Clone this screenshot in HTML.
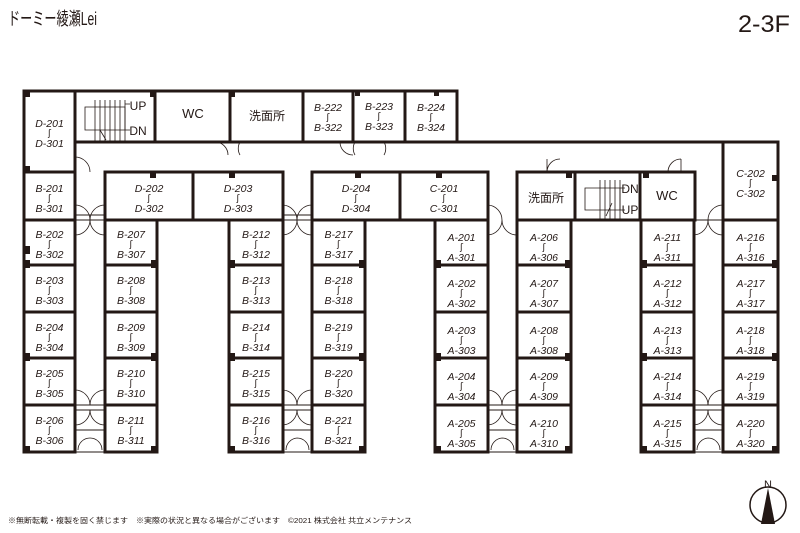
<!DOCTYPE html>
<html><head><meta charset="utf-8"><style>
html,body{margin:0;padding:0;background:#fff;width:800px;height:533px;overflow:hidden}
svg{display:block}
.r{fill:#fff;stroke:#231815;stroke-width:3}
.t{font-family:"Liberation Sans",sans-serif;font-style:italic;font-size:10.5px;fill:#231815;text-anchor:middle}
.s{font-family:"DejaVu Sans",sans-serif;font-size:9px;fill:#231815;text-anchor:middle}
.j{font-family:"Liberation Sans","Noto Sans CJK JP",sans-serif;fill:#231815;text-anchor:middle}
.d{fill:none;stroke:#231815;stroke-width:0.8}
.p{fill:#231815}
</style></head><body>
<svg width="800" height="533" viewBox="0 0 800 533" xmlns="http://www.w3.org/2000/svg">
<text x="8" y="25" font-family="Liberation Sans,'Noto Sans CJK JP',sans-serif" font-size="18" fill="#231815" textLength="89" lengthAdjust="spacingAndGlyphs">ドーミー綾瀬Lei</text>
<text x="790" y="32" font-family="Liberation Sans,sans-serif" font-size="24" fill="#231815" text-anchor="end" textLength="52" lengthAdjust="spacingAndGlyphs">2-3F</text>

<path d="M457 142 H723" stroke="#231815" stroke-width="3" fill="none"/>
<path d="M75 142 V172" stroke="#231815" stroke-width="3"/>
<path d="M723 142 V220" stroke="#231815" stroke-width="3"/>
<rect class="r" x="24" y="91" width="51" height="81"/>
<rect class="r" x="75" y="91" width="80" height="51"/>
<rect class="r" x="155" y="91" width="75" height="51"/>
<rect class="r" x="230" y="91" width="73" height="51"/>
<rect class="r" x="303" y="91" width="50" height="51"/>
<rect class="r" x="353" y="91" width="52" height="51"/>
<rect class="r" x="405" y="91" width="52" height="51"/>
<rect class="r" x="24" y="172" width="51" height="48"/>
<rect class="r" x="105" y="172" width="88" height="48"/>
<rect class="r" x="193" y="172" width="90" height="48"/>
<rect class="r" x="312" y="172" width="88" height="48"/>
<rect class="r" x="400" y="172" width="88" height="48"/>
<rect class="r" x="517" y="172" width="58" height="48"/>
<rect class="r" x="575" y="172" width="65" height="48"/>
<rect class="r" x="640" y="172" width="55" height="48"/>
<rect class="r" x="723" y="142" width="55" height="78"/>

<g>
<rect class="r" x="24" y="220" width="51" height="45"/><rect class="r" x="24" y="265" width="51" height="47"/><rect class="r" x="24" y="312" width="51" height="46"/><rect class="r" x="24" y="358" width="51" height="47"/><rect class="r" x="24" y="405" width="51" height="47"/>
<rect class="r" x="105" y="220" width="52" height="45"/><rect class="r" x="105" y="265" width="52" height="47"/><rect class="r" x="105" y="312" width="52" height="46"/><rect class="r" x="105" y="358" width="52" height="47"/><rect class="r" x="105" y="405" width="52" height="47"/>
<rect class="r" x="229" y="220" width="54" height="45"/><rect class="r" x="229" y="265" width="54" height="47"/><rect class="r" x="229" y="312" width="54" height="46"/><rect class="r" x="229" y="358" width="54" height="47"/><rect class="r" x="229" y="405" width="54" height="47"/>
<rect class="r" x="312" y="220" width="53" height="45"/><rect class="r" x="312" y="265" width="53" height="47"/><rect class="r" x="312" y="312" width="53" height="46"/><rect class="r" x="312" y="358" width="53" height="47"/><rect class="r" x="312" y="405" width="53" height="47"/>
<rect class="r" x="435" y="220" width="53" height="45"/><rect class="r" x="435" y="265" width="53" height="47"/><rect class="r" x="435" y="312" width="53" height="46"/><rect class="r" x="435" y="358" width="53" height="47"/><rect class="r" x="435" y="405" width="53" height="47"/>
<rect class="r" x="517" y="220" width="54" height="45"/><rect class="r" x="517" y="265" width="54" height="47"/><rect class="r" x="517" y="312" width="54" height="46"/><rect class="r" x="517" y="358" width="54" height="47"/><rect class="r" x="517" y="405" width="54" height="47"/>
<rect class="r" x="641" y="220" width="53" height="45"/><rect class="r" x="641" y="265" width="53" height="47"/><rect class="r" x="641" y="312" width="53" height="46"/><rect class="r" x="641" y="358" width="53" height="47"/><rect class="r" x="641" y="405" width="53" height="47"/>
<rect class="r" x="723" y="220" width="55" height="45"/><rect class="r" x="723" y="265" width="55" height="47"/><rect class="r" x="723" y="312" width="55" height="46"/><rect class="r" x="723" y="358" width="55" height="47"/><rect class="r" x="723" y="405" width="55" height="47"/>
</g>
<g stroke="#231815" stroke-width="1" fill="none">
<path d="M75 430 H105 M75 452 H105 M283 430 H312 M283 452 H312 M488 430 H517 M488 452 H517 M694 430 H723 M694 452 H723"/>
<path class="d" d="M78 450 A12 12 0 0 1 90 438 M102 450 A12 12 0 0 0 90 438 M286 450 A12 12 0 0 1 297 438 M309 450 A12 12 0 0 0 297 438 M491 450 A12 12 0 0 1 502 438 M514 450 A12 12 0 0 0 502 438 M697 450 A12 12 0 0 1 708 438 M720 450 A12 12 0 0 0 708 438"/>
<path d="M75 405 H105 M75 410 H105 M283 405 H312 M283 410 H312 M488 405 H517 M488 410 H517 M694 405 H723 M694 410 H723"/>
<path d="M75 220 H105 M75 215 H105 M283 220 H312 M283 215 H312 M694 220 H723"/>
</g>
<g class="d">
<path d="M75 390 A15 15 0 0 1 90 405 M105 390 A15 15 0 0 0 90 405 M75 425 A15 15 0 0 0 90 410 M105 425 A15 15 0 0 1 90 410"/>
<path d="M283 390 A15 15 0 0 1 297 405 M312 390 A15 15 0 0 0 297 405 M283 425 A15 15 0 0 0 297 410 M312 425 A15 15 0 0 1 297 410"/>
<path d="M488 390 A15 15 0 0 1 502 405 M517 390 A15 15 0 0 0 502 405 M488 425 A15 15 0 0 0 502 410 M517 425 A15 15 0 0 1 502 410"/>
<path d="M694 390 A15 15 0 0 1 708 405 M723 390 A15 15 0 0 0 708 405 M694 425 A15 15 0 0 0 708 410 M723 425 A15 15 0 0 1 708 410"/>
<path d="M75 205 A15 15 0 0 1 90 220 M105 205 A15 15 0 0 0 90 220 M75 235 A15 15 0 0 0 90 220 M105 235 A15 15 0 0 1 90 220"/>
<path d="M283 205 A15 15 0 0 1 297 220 M312 205 A15 15 0 0 0 297 220 M283 235 A15 15 0 0 0 297 220 M312 235 A15 15 0 0 1 297 220"/>
<path d="M488 205 A15 15 0 0 1 502 220 M517 235 A15 15 0 0 1 502 220 M488 235 A15 15 0 0 0 502 220"/>
<path d="M694 235 A15 15 0 0 0 708 220 M723 235 A15 15 0 0 1 708 220 M723 205 A15 15 0 0 0 708 220"/>
<path d="M75 157 A15 15 0 0 1 90 172 M215 142 A13 13 0 0 1 228 155 M240 142 A13 13 0 0 0 240 155 M340 142 A13 13 0 0 0 353 155 M355 142 A13 13 0 0 0 355 155 M384 142 A13 13 0 0 1 384 155 M547 172 A13 13 0 0 1 560 159 M547 159 V172 M668 172 A13 13 0 0 1 681 159 M681 159 V172"/>
</g>
<g stroke="#231815" stroke-width="0.8" fill="none">
<path d="M95 100 V142 M100 100 V142 M105 100 V142 M110 100 V142 M115 100 V142 M120 100 V142 M125 100 V142"/>
<path d="M85 107 H125 V130 H85 Z"/>
<path d="M125 104 H130 M125 130 H130 M100 130 L106 140"/>
<path d="M600 180 V220 M605 180 V220 M610 180 V220 M615 180 V220 M620 180 V220"/>
<path d="M585 188 H620 V210 H585 Z"/>
<path d="M620 188 H625 M620 210 H625 M612 203 L606 216"/>
</g>
<text class="j" x="138" y="110" font-size="12">UP</text>
<text class="j" x="138" y="135" font-size="12">DN</text>
<text class="j" x="630" y="193" font-size="12">DN</text>
<text class="j" x="630" y="214" font-size="12">UP</text>
<text class="j" x="193" y="118" font-size="13">WC</text>
<text class="j" x="267" y="120" font-size="12">洗面所</text>
<text class="j" x="546" y="202" font-size="12">洗面所</text>
<text class="j" x="667" y="200" font-size="13">WC</text>

<g class="p">
<rect x="24" y="91" width="6" height="6"/><rect x="24" y="166" width="6" height="6"/><rect x="24" y="246" width="6" height="8"/><rect x="24" y="446" width="6" height="6"/><rect x="151" y="446" width="6" height="6"/>
<rect x="150" y="91" width="6" height="6"/><rect x="229" y="91" width="6" height="6"/><rect x="355" y="91" width="5" height="5"/><rect x="434" y="91" width="5" height="5"/>
<rect x="150" y="172" width="6" height="6"/><rect x="229" y="172" width="6" height="6"/><rect x="355" y="172" width="6" height="6"/><rect x="436" y="172" width="6" height="6"/><rect x="566" y="172" width="6" height="6"/><rect x="643" y="172" width="6" height="6"/><rect x="772" y="175" width="6" height="6"/>
<rect x="229" y="446" width="6" height="6"/><rect x="359" y="446" width="6" height="6"/><rect x="435" y="446" width="6" height="6"/><rect x="565" y="446" width="6" height="6"/><rect x="641" y="446" width="6" height="6"/><rect x="772" y="446" width="6" height="6"/>
<rect x="151" y="260" width="6" height="8"/><rect x="229" y="260" width="6" height="8"/><rect x="359" y="260" width="6" height="8"/><rect x="435" y="260" width="6" height="8"/><rect x="565" y="260" width="6" height="8"/><rect x="641" y="260" width="6" height="8"/><rect x="772" y="260" width="6" height="8"/><rect x="24" y="260" width="6" height="8"/>
<rect x="151" y="353" width="6" height="8"/><rect x="229" y="353" width="6" height="8"/><rect x="359" y="353" width="6" height="8"/><rect x="435" y="353" width="6" height="8"/><rect x="565" y="353" width="6" height="8"/><rect x="641" y="353" width="6" height="8"/><rect x="772" y="353" width="6" height="8"/><rect x="24" y="353" width="6" height="8"/>
</g>

<g>
<text class="t" x="49.5" y="127">D-201</text><text class="s" x="49.5" y="136">ʃ</text><text class="t" x="49.5" y="147">D-301</text>
<text class="t" x="49.5" y="192">B-201</text><text class="s" x="49.5" y="201">ʃ</text><text class="t" x="49.5" y="212">B-301</text>
<text class="t" x="149" y="192">D-202</text><text class="s" x="149" y="201">ʃ</text><text class="t" x="149" y="212">D-302</text>
<text class="t" x="238" y="192">D-203</text><text class="s" x="238" y="201">ʃ</text><text class="t" x="238" y="212">D-303</text>
<text class="t" x="356" y="192">D-204</text><text class="s" x="356" y="201">ʃ</text><text class="t" x="356" y="212">D-304</text>
<text class="t" x="444" y="192">C-201</text><text class="s" x="444" y="201">ʃ</text><text class="t" x="444" y="212">C-301</text>
<text class="t" x="750.5" y="177">C-202</text><text class="s" x="750.5" y="186">ʃ</text><text class="t" x="750.5" y="197">C-302</text>
<text class="t" x="328" y="111">B-222</text><text class="s" x="328" y="120">ʃ</text><text class="t" x="328" y="131">B-322</text>
<text class="t" x="379" y="110">B-223</text><text class="s" x="379" y="119">ʃ</text><text class="t" x="379" y="130">B-323</text>
<text class="t" x="431" y="111">B-224</text><text class="s" x="431" y="120">ʃ</text><text class="t" x="431" y="131">B-324</text>
</g>
<g>
<text class="t" x="49.5" y="238">B-202</text><text class="s" x="49.5" y="247">ʃ</text><text class="t" x="49.5" y="258">B-302</text>
<text class="t" x="49.5" y="284">B-203</text><text class="s" x="49.5" y="293">ʃ</text><text class="t" x="49.5" y="304">B-303</text>
<text class="t" x="49.5" y="331">B-204</text><text class="s" x="49.5" y="340">ʃ</text><text class="t" x="49.5" y="351">B-304</text>
<text class="t" x="49.5" y="377">B-205</text><text class="s" x="49.5" y="386">ʃ</text><text class="t" x="49.5" y="397">B-305</text>
<text class="t" x="49.5" y="424">B-206</text><text class="s" x="49.5" y="433">ʃ</text><text class="t" x="49.5" y="444">B-306</text>
<text class="t" x="131" y="238">B-207</text><text class="s" x="131" y="247">ʃ</text><text class="t" x="131" y="258">B-307</text>
<text class="t" x="131" y="284">B-208</text><text class="s" x="131" y="293">ʃ</text><text class="t" x="131" y="304">B-308</text>
<text class="t" x="131" y="331">B-209</text><text class="s" x="131" y="340">ʃ</text><text class="t" x="131" y="351">B-309</text>
<text class="t" x="131" y="377">B-210</text><text class="s" x="131" y="386">ʃ</text><text class="t" x="131" y="397">B-310</text>
<text class="t" x="131" y="424">B-211</text><text class="s" x="131" y="433">ʃ</text><text class="t" x="131" y="444">B-311</text>
<text class="t" x="256" y="238">B-212</text><text class="s" x="256" y="247">ʃ</text><text class="t" x="256" y="258">B-312</text>
<text class="t" x="256" y="284">B-213</text><text class="s" x="256" y="293">ʃ</text><text class="t" x="256" y="304">B-313</text>
<text class="t" x="256" y="331">B-214</text><text class="s" x="256" y="340">ʃ</text><text class="t" x="256" y="351">B-314</text>
<text class="t" x="256" y="377">B-215</text><text class="s" x="256" y="386">ʃ</text><text class="t" x="256" y="397">B-315</text>
<text class="t" x="256" y="424">B-216</text><text class="s" x="256" y="433">ʃ</text><text class="t" x="256" y="444">B-316</text>
<text class="t" x="338.5" y="238">B-217</text><text class="s" x="338.5" y="247">ʃ</text><text class="t" x="338.5" y="258">B-317</text>
<text class="t" x="338.5" y="284">B-218</text><text class="s" x="338.5" y="293">ʃ</text><text class="t" x="338.5" y="304">B-318</text>
<text class="t" x="338.5" y="331">B-219</text><text class="s" x="338.5" y="340">ʃ</text><text class="t" x="338.5" y="351">B-319</text>
<text class="t" x="338.5" y="377">B-220</text><text class="s" x="338.5" y="386">ʃ</text><text class="t" x="338.5" y="397">B-320</text>
<text class="t" x="338.5" y="424">B-221</text><text class="s" x="338.5" y="433">ʃ</text><text class="t" x="338.5" y="444">B-321</text>
<text class="t" x="461.5" y="241">A-201</text><text class="s" x="461.5" y="250">ʃ</text><text class="t" x="461.5" y="261">A-301</text>
<text class="t" x="461.5" y="287">A-202</text><text class="s" x="461.5" y="296">ʃ</text><text class="t" x="461.5" y="307">A-302</text>
<text class="t" x="461.5" y="334">A-203</text><text class="s" x="461.5" y="343">ʃ</text><text class="t" x="461.5" y="354">A-303</text>
<text class="t" x="461.5" y="380">A-204</text><text class="s" x="461.5" y="389">ʃ</text><text class="t" x="461.5" y="400">A-304</text>
<text class="t" x="461.5" y="427">A-205</text><text class="s" x="461.5" y="436">ʃ</text><text class="t" x="461.5" y="447">A-305</text>
<text class="t" x="544" y="241">A-206</text><text class="s" x="544" y="250">ʃ</text><text class="t" x="544" y="261">A-306</text>
<text class="t" x="544" y="287">A-207</text><text class="s" x="544" y="296">ʃ</text><text class="t" x="544" y="307">A-307</text>
<text class="t" x="544" y="334">A-208</text><text class="s" x="544" y="343">ʃ</text><text class="t" x="544" y="354">A-308</text>
<text class="t" x="544" y="380">A-209</text><text class="s" x="544" y="389">ʃ</text><text class="t" x="544" y="400">A-309</text>
<text class="t" x="544" y="427">A-210</text><text class="s" x="544" y="436">ʃ</text><text class="t" x="544" y="447">A-310</text>
<text class="t" x="667.5" y="241">A-211</text><text class="s" x="667.5" y="250">ʃ</text><text class="t" x="667.5" y="261">A-311</text>
<text class="t" x="667.5" y="287">A-212</text><text class="s" x="667.5" y="296">ʃ</text><text class="t" x="667.5" y="307">A-312</text>
<text class="t" x="667.5" y="334">A-213</text><text class="s" x="667.5" y="343">ʃ</text><text class="t" x="667.5" y="354">A-313</text>
<text class="t" x="667.5" y="380">A-214</text><text class="s" x="667.5" y="389">ʃ</text><text class="t" x="667.5" y="400">A-314</text>
<text class="t" x="667.5" y="427">A-215</text><text class="s" x="667.5" y="436">ʃ</text><text class="t" x="667.5" y="447">A-315</text>
<text class="t" x="750.5" y="241">A-216</text><text class="s" x="750.5" y="250">ʃ</text><text class="t" x="750.5" y="261">A-316</text>
<text class="t" x="750.5" y="287">A-217</text><text class="s" x="750.5" y="296">ʃ</text><text class="t" x="750.5" y="307">A-317</text>
<text class="t" x="750.5" y="334">A-218</text><text class="s" x="750.5" y="343">ʃ</text><text class="t" x="750.5" y="354">A-318</text>
<text class="t" x="750.5" y="380">A-219</text><text class="s" x="750.5" y="389">ʃ</text><text class="t" x="750.5" y="400">A-319</text>
<text class="t" x="750.5" y="427">A-220</text><text class="s" x="750.5" y="436">ʃ</text><text class="t" x="750.5" y="447">A-320</text>
</g>

<text x="8" y="523" font-family="Liberation Sans,'Noto Sans CJK JP',sans-serif" font-size="7.5" fill="#231815" textLength="404" lengthAdjust="spacingAndGlyphs">※無断転載・複製を固く禁じます　※実際の状況と異なる場合がございます　©2021 株式会社 共立メンテナンス</text>

<circle cx="768" cy="505" r="18" fill="none" stroke="#231815" stroke-width="1.5"/>
<path d="M768 488 L761 524 H775 Z" fill="#231815"/>
<text x="768" y="488" font-family="Liberation Sans,sans-serif" font-size="11" fill="#231815" text-anchor="middle">N</text>
</svg>
</body></html>
